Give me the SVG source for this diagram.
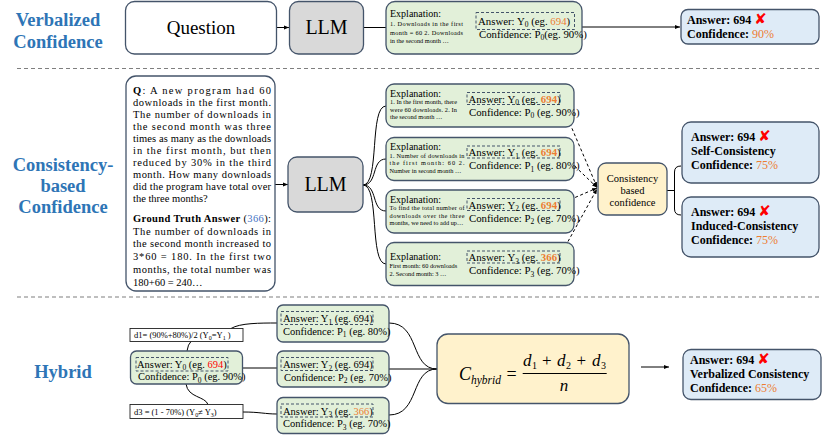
<svg xmlns="http://www.w3.org/2000/svg" width="822" height="437" viewBox="0 0 822 437">
<defs>
<marker id="arr" viewBox="0 0 10 10" refX="10" refY="5" markerWidth="6" markerHeight="6" orient="auto"><path d="M0,1 L10,5 L0,9 z" fill="#000"/></marker>
<marker id="arrs" viewBox="0 0 10 10" refX="10" refY="5" markerWidth="5" markerHeight="5" orient="auto"><path d="M0,1 L10,5 L0,9 z" fill="#000"/></marker>
</defs>
<style>
text{font-family:"Liberation Serif","Times New Roman",serif;fill:#000}
.lab{font-weight:bold;fill:#2e75b6;font-size:18.5px;text-anchor:middle}
.box{stroke:#44546a;stroke-width:1.3}
.green{fill:#e2f0d9}
.blue{fill:#deebf7}
.yellow{fill:#fff2cc}
.gray{fill:#d9d9d9}
.white{fill:#fff}
.thin{fill:#fff;stroke:#222;stroke-width:0.9}
.dash{fill:none;stroke:#44546a;stroke-width:1;stroke-dasharray:3,2}
.sep{stroke:#7f7f7f;stroke-width:1.2;stroke-dasharray:4,3}
.ln{fill:none;stroke:#000;stroke-width:1}
.dl{fill:none;stroke:#000;stroke-width:1;stroke-dasharray:3,2.5}
.o{fill:#ed7d31}
.r{fill:#ff0000}
.gt{fill:#4472c4}
.x{font-family:"DejaVu Sans",sans-serif;fill:#ff0000;font-weight:bold}
.s{font-size:6.3px}
.e{font-size:10px}
.m{font-size:10.8px}
.q{font-size:10.5px}
.b{font-size:12px;font-weight:bold}
.pc{font-weight:normal;fill:#ed7d31}
.sb{font-size:7.5px}
.mi{font-style:italic}
</style>

<!-- separators -->
<line class="sep" x1="17" y1="68.5" x2="822" y2="68.5"/>
<line class="sep" x1="17" y1="297" x2="822" y2="297"/>

<!-- section labels -->
<g id="label-verbalized"><text class="lab" x="58" y="26">Verbalized</text><text class="lab" x="58" y="48">Confidence</text></g>
<g id="label-consistency"><text class="lab" x="63" y="171">Consistency-</text><text class="lab" x="63" y="192">based</text><text class="lab" x="63" y="213">Confidence</text></g>
<g id="label-hybrid"><text class="lab" x="63" y="378">Hybrid</text></g>

<!-- connectors -->
<g id="connectors">
<line class="ln" x1="276.5" y1="27.5" x2="289" y2="27.5" marker-end="url(#arrs)"/>
<line class="ln" x1="363.5" y1="27.5" x2="386" y2="27.5"/>
<line class="ln" x1="582" y1="27" x2="680" y2="27" marker-end="url(#arrs)"/>
<line class="ln" x1="275" y1="184.5" x2="288" y2="184.5" marker-end="url(#arrs)"/>
<path class="ln" d="M363,185 C380,185 369,106 386,106"/>
<path class="ln" d="M363,185 C378,185 371,159 386,159"/>
<path class="ln" d="M363,185 C378,185 371,211 386,211"/>
<path class="ln" d="M363,185 C380,185 369,264 386,264"/>
<path class="dl" d="M559,98 L597,187" marker-end="url(#arrs)"/>
<path class="dl" d="M559,151 L597,187.5" marker-end="url(#arrs)"/>
<path class="dl" d="M560,204 L597,188" marker-end="url(#arrs)"/>
<path class="dl" d="M560,256 L597,189" marker-end="url(#arrs)"/>
<path class="ln" d="M667,190.5 H674.5 M681,166 Q674.5,166 674.5,172 V209 Q674.5,215 681,215"/>
<path class="ln" d="M187,351 Q188,344 191,341.5"/>
<path class="ln" d="M231,328.5 C240,323 260,323 277,323"/>
<path class="ln" d="M186,384 C188,398 205,396 208,404.5"/>
<path class="ln" d="M243,412 C260,412 265,414 277,414"/>
<line class="ln" x1="242.5" y1="368" x2="277" y2="368"/>
<path class="ln" d="M389,323 C420,323 410,369 437,369"/>
<line class="ln" x1="389" y1="369" x2="437" y2="369"/>
<path class="ln" d="M389,415 C420,415 410,369 437,369"/>
<line class="ln" x1="641" y1="367" x2="669" y2="367" marker-end="url(#arrs)"/>
</g>

<!-- top row -->
<g id="question-top"><rect class="box white" x="125.5" y="1.5" width="151" height="52.5" rx="9"/><text x="201" y="34" font-size="19" text-anchor="middle">Question</text></g>
<g id="llm-top"><rect class="box gray" x="289.5" y="1.5" width="74" height="52.5" rx="9"/><text x="326.5" y="34" font-size="20" text-anchor="middle">LLM</text></g>
<g id="explanation-top"><rect class="box green" x="386" y="1.5" width="196" height="52.5" rx="9"/>
<text class="e" x="390" y="17">Explanation:</text>
<text class="s" x="390" y="26" textLength="73" lengthAdjust="spacing">1. Downloads in the first</text>
<text class="s" x="390" y="34.5" textLength="73" lengthAdjust="spacing">month = 60 2. Downloads</text>
<text class="s" x="390" y="43">in the second month …</text>
<rect class="dash" x="476" y="12.5" width="98.5" height="17"/>
<text class="m" x="478" y="24.5">Answer: Y<tspan class="sb" dy="2.5">0</tspan><tspan dy="-2.5"> (eg. </tspan><tspan class="o">694</tspan>)</text>
<text class="m" x="479" y="37.5">Confidence: P<tspan class="sb" dy="2.5">0</tspan><tspan dy="-2.5">(eg. 90%)</tspan></text>
</g>
<g id="answer-verbalized"><rect class="box blue" x="681" y="9.5" width="138" height="34.5" rx="7"/>
<text class="b" x="687" y="23.5">Answer: 694 <tspan class="x" font-size="15">✘</tspan></text>
<text class="b" x="687" y="38">Confidence: <tspan class="pc">90%</tspan></text>
</g>

<!-- middle row -->
<g id="question-full"><rect class="box white" x="126" y="76" width="149" height="215" rx="10"/>
<text class="q" x="133" y="94" textLength="138" lengthAdjust="spacing"><tspan font-weight="bold">Q</tspan>: A new program had 60</text>
<text class="q" x="133" y="106" textLength="138" lengthAdjust="spacing">downloads in the first month.</text>
<text class="q" x="133" y="118" textLength="138" lengthAdjust="spacing">The number of downloads in</text>
<text class="q" x="133" y="130" textLength="138" lengthAdjust="spacing">the second month was three</text>
<text class="q" x="133" y="142" textLength="138" lengthAdjust="spacing">times as many as the downloads</text>
<text class="q" x="133" y="154" textLength="138" lengthAdjust="spacing">in the first month, but then</text>
<text class="q" x="133" y="166" textLength="138" lengthAdjust="spacing">reduced by 30% in the third</text>
<text class="q" x="133" y="178" textLength="138" lengthAdjust="spacing">month. How many downloads</text>
<text class="q" x="133" y="190" textLength="138" lengthAdjust="spacing">did the program have total over</text>
<text class="q" x="133" y="202">the three months?</text>
<text class="q" x="133" y="222" textLength="138" lengthAdjust="spacing"><tspan font-weight="bold">Ground Truth Answer</tspan> (<tspan class="gt">366</tspan>):</text>
<text class="q" x="133" y="234.7" textLength="138" lengthAdjust="spacing">The number of downloads in</text>
<text class="q" x="133" y="247.4" textLength="138" lengthAdjust="spacing">the second month increased to</text>
<text class="q" x="133" y="260.1" textLength="138" lengthAdjust="spacing">3*60 = 180. In the first two</text>
<text class="q" x="133" y="272.8" textLength="138" lengthAdjust="spacing">months, the total number was</text>
<text class="q" x="133" y="285.5">180+60 = 240…</text>
</g>
<g id="llm-mid"><rect class="box gray" x="288" y="157" width="75" height="55" rx="9"/><text x="325.5" y="191" font-size="20" text-anchor="middle">LLM</text></g>

<g id="explanation-0"><rect class="box green" x="386" y="84" width="188" height="43" rx="8"/>
<text class="e" x="390" y="96.5">Explanation:</text>
<text class="s" x="390" y="104" textLength="67" lengthAdjust="spacing">1. In the first month, there</text>
<text class="s" x="390" y="111.5" textLength="67" lengthAdjust="spacing">were 60 downloads. 2. In</text>
<text class="s" x="390" y="119">the second month …</text>
<rect class="dash" x="467" y="92.5" width="93" height="12"/>
<text class="m" x="468.5" y="102.5">Answer: Y<tspan class="sb" dy="2.5">0</tspan><tspan dy="-2.5"> (eg. </tspan><tspan class="o" font-weight="bold">694</tspan>)</text>
<text class="m" x="469" y="115.5">Confidence: P<tspan class="sb" dy="2.5">0</tspan><tspan dy="-2.5"> (eg. 90%)</tspan></text>
</g>
<g id="explanation-1"><rect class="box green" x="386" y="137.5" width="188" height="43" rx="8"/>
<text class="e" x="390" y="150">Explanation:</text>
<text class="s" x="389.5" y="157.5" textLength="75" lengthAdjust="spacing">1. Number of downloads in</text>
<text class="s" x="389.5" y="165" textLength="75" lengthAdjust="spacing">the first month: 60 2.</text>
<text class="s" x="389.5" y="172.5">Number in second month …</text>
<rect class="dash" x="467" y="146" width="93" height="12"/>
<text class="m" x="468.5" y="156">Answer: Y<tspan class="sb" dy="2.5">1</tspan><tspan dy="-2.5"> (eg. </tspan><tspan class="o" font-weight="bold">694</tspan>)</text>
<text class="m" x="469" y="169">Confidence: P<tspan class="sb" dy="2.5">1</tspan><tspan dy="-2.5"> (eg. 80%)</tspan></text>
</g>
<g id="explanation-2"><rect class="box green" x="386" y="190" width="188" height="43" rx="8"/>
<text class="e" x="390" y="202.5">Explanation:</text>
<text class="s" x="389.5" y="210" textLength="75" lengthAdjust="spacing">To find the total number of</text>
<text class="s" x="389.5" y="217.5" textLength="75" lengthAdjust="spacing">downloads over the three</text>
<text class="s" x="389.5" y="225">months, we need to add up…</text>
<rect class="dash" x="467" y="198.5" width="93" height="12"/>
<text class="m" x="468.5" y="208.5">Answer: Y<tspan class="sb" dy="2.5">2</tspan><tspan dy="-2.5"> (eg. </tspan><tspan class="o" font-weight="bold">694</tspan>)</text>
<text class="m" x="469" y="221.5">Confidence: P<tspan class="sb" dy="2.5">2</tspan><tspan dy="-2.5"> (eg. 70%)</tspan></text>
</g>
<g id="explanation-3"><rect class="box green" x="386" y="242.5" width="188" height="43" rx="8"/>
<text class="e" x="390" y="259.5">Explanation:</text>
<text class="s" x="389.5" y="268">First month: 60 downloads</text>
<text class="s" x="389.5" y="275.5">2. Second month: 3 …</text>
<rect class="dash" x="467" y="251" width="93" height="12"/>
<text class="m" x="468.5" y="261">Answer: Y<tspan class="sb" dy="2.5">3</tspan><tspan dy="-2.5"> (eg. </tspan><tspan class="o" font-weight="bold">366</tspan>)</text>
<text class="m" x="469" y="274">Confidence: P<tspan class="sb" dy="2.5">3</tspan><tspan dy="-2.5"> (eg. 70%)</tspan></text>
</g>

<g id="consistency-box"><rect class="box yellow" x="598" y="163" width="69" height="52" rx="8"/>
<text font-size="10.5" x="632.5" y="182" text-anchor="middle">Consistency</text>
<text font-size="10.5" x="632.5" y="194" text-anchor="middle">based</text>
<text font-size="10.5" x="632.5" y="206" text-anchor="middle">confidence</text>
</g>
<g id="answer-self"><rect class="box blue" x="682" y="122" width="137" height="61" rx="9"/>
<text class="b" x="691" y="141">Answer: 694 <tspan class="x" font-size="15">✘</tspan></text>
<text class="b" x="691" y="155">Self-Consistency</text>
<text class="b" x="691" y="169">Confidence: <tspan class="pc">75%</tspan></text>
</g>
<g id="answer-induced"><rect class="box blue" x="682" y="197" width="137" height="60" rx="9"/>
<text class="b" x="691" y="216">Answer: 694 <tspan class="x" font-size="15">✘</tspan></text>
<text class="b" x="691" y="230">Induced-Consistency</text>
<text class="b" x="691" y="244">Confidence: <tspan class="pc">75%</tspan></text>
</g>

<!-- hybrid row -->
<g id="d1"><rect class="thin" x="130" y="328.5" width="113" height="13"/>
<text font-size="8.5" x="134" y="338">d1= (90%+80%)/2 (Y<tspan font-size="6" dy="2">0</tspan><tspan dy="-2">=Y</tspan><tspan font-size="6" dy="2">1</tspan><tspan dy="-2"> )</tspan></text>
</g>
<g id="y0"><rect class="box green" x="130.5" y="351" width="112" height="33" rx="6"/>
<rect class="dash" x="136" y="357.5" width="92" height="13.5"/>
<text font-size="10.5" x="137" y="367.5">Answer: Y<tspan class="sb" dy="2.5">0</tspan><tspan dy="-2.5"> (eg. </tspan><tspan class="r">694</tspan>)</text>
<text font-size="10.5" x="138" y="380">Confidence: P<tspan class="sb" dy="2.5">0</tspan><tspan dy="-2.5"> (eg. 90%)</tspan></text>
</g>
<g id="d3"><rect class="thin" x="130" y="404.5" width="113" height="14"/>
<text font-size="8.5" x="134" y="414.5">d3 = (1 - 70%)  (Y<tspan font-size="6" dy="2">0</tspan><tspan dy="-2">≠ Y</tspan><tspan font-size="6" dy="2">3</tspan><tspan dy="-2">)</tspan></text>
</g>
<g id="y1"><rect class="box green" x="277" y="305" width="112" height="37" rx="6"/>
<rect class="dash" x="281" y="311.5" width="92" height="13"/>
<text font-size="10.5" x="283" y="322">Answer: Y<tspan class="sb" dy="2.5">1</tspan><tspan dy="-2.5"> (eg. 694)</tspan></text>
<text font-size="10.5" x="283" y="334.5">Confidence: P<tspan class="sb" dy="2.5">1</tspan><tspan dy="-2.5"> (eg. 80%)</tspan></text>
</g>
<g id="y2"><rect class="box green" x="277" y="351" width="112" height="36" rx="6"/>
<rect class="dash" x="281" y="357.5" width="92" height="13"/>
<text font-size="10.5" x="283" y="368">Answer: Y<tspan class="sb" dy="2.5">2</tspan><tspan dy="-2.5"> (eg. 694)</tspan></text>
<text font-size="10.5" x="284" y="380.5">Confidence: P<tspan class="sb" dy="2.5">2</tspan><tspan dy="-2.5"> (eg. 70%)</tspan></text>
</g>
<g id="y3"><rect class="box green" x="277" y="397.5" width="112" height="36" rx="6"/>
<rect class="dash" x="281" y="404" width="92" height="13"/>
<text font-size="10.5" x="283" y="414.5">Answer: Y<tspan class="sb" dy="2.5">3</tspan><tspan dy="-2.5"> (eg. </tspan><tspan class="o">366</tspan>)</text>
<text font-size="10.5" x="283" y="427">Confidence: P<tspan class="sb" dy="2.5">3</tspan><tspan dy="-2.5"> (eg. 70%)</tspan></text>
</g>
<g id="formula"><rect class="box yellow" x="437" y="334" width="192" height="69.5" rx="11"/>
<text class="mi" font-size="18" x="459" y="380">C</text>
<text class="mi" font-size="11.5" x="471" y="383.5">hybrid</text>
<text font-size="18" x="511.5" y="380" text-anchor="middle">=</text>
<text class="mi" font-size="17" x="523" y="366">d</text><text font-size="10" x="532" y="369">1</text>
<text font-size="17" x="546.7" y="366" text-anchor="middle">+</text>
<text class="mi" font-size="17" x="557" y="366">d</text><text font-size="10" x="566" y="369">2</text>
<text font-size="17" x="581.3" y="366" text-anchor="middle">+</text>
<text class="mi" font-size="17" x="592" y="366">d</text><text font-size="10" x="601" y="369">3</text>
<line x1="522.7" y1="373.5" x2="606.7" y2="373.5" stroke="#000" stroke-width="1"/>
<text class="mi" font-size="17" x="564" y="391" text-anchor="middle">n</text>
</g>
<g id="answer-hybrid"><rect class="box blue" x="683" y="349.5" width="138" height="50" rx="8"/>
<text class="b" x="690" y="363.5">Answer: 694 <tspan class="x" font-size="15">✘</tspan></text>
<text class="b" x="690" y="377.5">Verbalized Consistency</text>
<text class="b" x="690" y="391.5">Confidence: <tspan class="pc">65%</tspan></text>
</g>
</svg>
